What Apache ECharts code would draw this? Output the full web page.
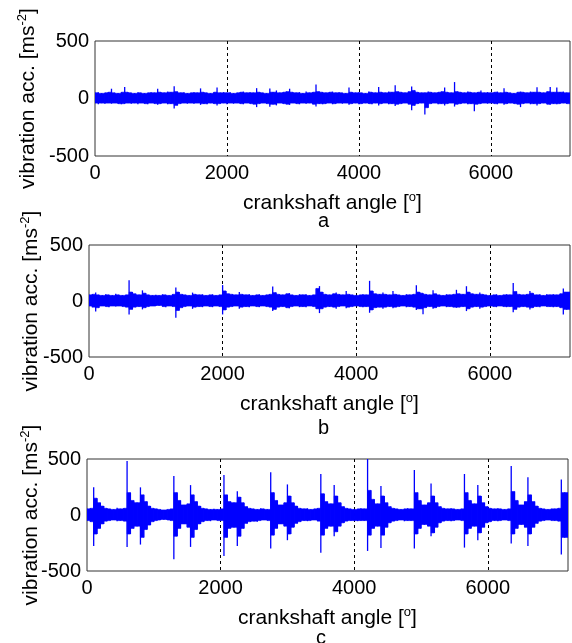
<!DOCTYPE html>
<html>
<head>
<meta charset="utf-8">
<title>Vibration acceleration vs crankshaft angle</title>
<script src="https://cdn.jsdelivr.net/npm/echarts@6/dist/echarts.min.js"></script>
<style>
  html, body { margin: 0; padding: 0; background: #fff; }
  #chart { width: 572px; height: 643px; }
</style>
</head>
<body>
<div id="chart"></div>
<script>
// Crankshaft angle sampling: each bin holds the local max and min of the signal
const BIN_DEG = 50;
const X_MAX = 7200;
const Y_TICKS = [-500, 0, 500];
const PANEL_LETTERS = ['a', 'b', 'c'];

// Panel a: local maxima / minima per 50-degree bin [m/s^2]
const aHi = [
  50,55,45,50,55,85,50,45,55,100,
  55,50,45,55,50,45,50,55,50,85,
  55,50,60,55,106,60,50,55,45,50,
  55,50,88,55,50,45,55,95,50,55,
  50,55,45,50,55,60,50,55,50,90,
  55,50,45,88,55,70,50,55,60,85,
  55,50,55,45,60,50,55,121,60,55,
  50,55,60,50,55,50,45,95,55,50,
  55,50,45,60,55,50,100,55,50,60,
  55,115,60,55,50,60,105,70,55,50,
  50,60,55,50,55,60,95,55,50,143,
  60,55,50,60,55,50,55,70,50,55,
  50,55,60,50,90,55,50,45,55,60,
  55,50,60,55,97,55,50,60,100,55,
  95,55,60,50
];
const aLo = [
  -40,-50,-40,-45,-40,-45,-40,-45,-50,-45,
  -40,-45,-40,-50,-40,-45,-50,-40,-45,-55,
  -45,-40,-50,-45,-88,-60,-45,-40,-45,-40,
  -45,-40,-55,-45,-50,-40,-45,-60,-45,-40,
  -50,-40,-45,-40,-45,-50,-40,-45,-50,-75,
  -45,-40,-45,-72,-50,-60,-40,-45,-50,-55,
  -40,-45,-50,-40,-45,-40,-50,-70,-45,-50,
  -45,-40,-50,-45,-40,-45,-40,-55,-45,-40,
  -50,-45,-40,-45,-50,-40,-60,-45,-40,-50,
  -45,-65,-50,-45,-40,-50,-103,-60,-45,-40,
  -140,-80,-45,-40,-50,-45,-60,-45,-40,-70,
  -50,-45,-40,-50,-45,-111,-50,-45,-40,-45,
  -40,-45,-50,-40,-55,-45,-40,-45,-50,-75,
  -45,-40,-50,-45,-60,-45,-40,-50,-55,-45,
  -50,-45,-40,-45
];

// Panel b
const bHi = [
  55,60,75,55,50,60,55,50,65,55,
  50,55,185,80,65,55,95,70,55,50,
  55,50,60,55,50,60,121,80,60,55,
  50,75,60,55,60,50,55,60,50,55,
  142,90,65,60,55,80,60,55,60,50,
  55,60,50,55,60,130,75,60,55,65,
  70,55,50,60,55,60,50,55,112,133,
  80,60,55,65,75,60,55,90,60,55,
  50,55,60,55,180,90,65,60,75,60,
  55,90,60,55,50,60,55,60,140,80,
  70,60,55,95,65,55,50,60,55,60,
  100,65,60,132,80,65,60,75,60,55,
  50,55,60,50,55,60,55,160,85,60,
  55,60,90,70,55,60,50,60,55,60,
  55,65,112,80
];
const bLo = [
  -45,-55,-93,-60,-45,-50,-55,-45,-50,-45,
  -50,-55,-120,-75,-55,-50,-75,-60,-50,-45,
  -45,-40,-50,-55,-45,-50,-150,-85,-60,-50,
  -45,-70,-55,-50,-55,-45,-50,-55,-45,-50,
  -120,-80,-55,-50,-45,-70,-55,-50,-55,-45,
  -50,-55,-45,-50,-55,-90,-75,-55,-50,-60,
  -65,-50,-45,-55,-50,-55,-45,-50,-70,-108,
  -70,-55,-50,-55,-70,-50,-45,-65,-55,-50,
  -45,-50,-55,-50,-105,-80,-60,-55,-70,-55,
  -50,-65,-55,-50,-45,-55,-50,-55,-80,-70,
  -118,-60,-50,-70,-60,-50,-45,-55,-50,-55,
  -60,-55,-50,-90,-70,-55,-50,-70,-55,-50,
  -45,-50,-55,-45,-50,-55,-50,-100,-75,-55,
  -50,-55,-75,-60,-50,-55,-45,-50,-50,-55,
  -50,-60,-120,-75
];

// Panel c
const cHi = [
  55,60,247,150,110,80,60,55,50,65,
  55,60,482,200,130,110,247,180,120,80,
  60,55,50,45,50,55,348,200,130,90,
  100,267,180,120,80,60,55,50,55,50,
  55,357,180,120,110,213,160,110,75,60,
  55,50,60,55,50,381,200,130,90,110,
  273,170,110,80,60,55,60,50,55,60,
  366,190,120,100,267,170,110,75,60,55,
  50,55,60,55,500,220,140,100,258,170,
  110,75,60,55,50,55,60,55,401,200,
  130,90,110,282,170,110,75,60,55,60,
  55,50,55,366,200,130,100,267,170,110,
  75,60,55,60,55,50,55,437,210,130,
  90,120,336,180,120,80,60,55,50,55,
  55,60,318,200
];
const cLo = [
  -50,-60,-276,-170,-120,-80,-55,-50,-45,-55,
  -50,-55,-285,-170,-120,-100,-264,-200,-130,-90,
  -60,-50,-45,-40,-45,-50,-395,-190,-120,-80,
  -110,-285,-200,-130,-80,-60,-50,-55,-45,-50,
  -50,-366,-200,-120,-110,-276,-190,-120,-75,-60,
  -55,-60,-50,-45,-50,-300,-180,-120,-80,-100,
  -225,-170,-110,-75,-60,-50,-55,-50,-45,-55,
  -336,-180,-120,-100,-189,-150,-100,-70,-55,-50,
  -50,-55,-50,-50,-321,-180,-120,-100,-294,-180,
  -110,-70,-55,-50,-45,-55,-50,-50,-300,-170,
  -120,-85,-100,-189,-160,-110,-70,-55,-50,-55,
  -50,-45,-50,-291,-170,-120,-100,-225,-160,-110,
  -70,-60,-50,-55,-50,-45,-50,-255,-170,-120,
  -85,-110,-276,-170,-110,-75,-55,-50,-45,-50,
  -50,-55,-353,-200
];

const FONT = '"Liberation Sans", Arial, sans-serif';
const BLUE = '#0000ff';

// One data item per bin: [angle, max, min]
function binItems(hi, lo) {
  return hi.map((h, k) => [k * BIN_DEG, h, lo[k]]);
}

// Each bin: a needle from its min to its max, plus a solid block up to the
// extent that both neighbouring bins reach (the dense part of the trace)
function traceRenderer(hi, lo) {
  return function (params, api) {
    const k = params.dataIndex;
    const last = k === hi.length - 1;
    const x0 = k * BIN_DEG;
    const x1 = last ? X_MAX : (k + 1) * BIN_DEG;
    const top = last ? hi[k] : Math.min(hi[k], hi[k + 1]);
    const bot = last ? lo[k] : Math.max(lo[k], lo[k + 1]);
    const block = [
      api.coord([x0, top]), api.coord([x1, top]),
      api.coord([x1, bot]), api.coord([x0, bot])
    ];
    const pHi = api.coord([x0, hi[k]]);
    const pLo = api.coord([x0, lo[k]]);
    return {
      type: 'group',
      children: [
        { type: 'polygon', shape: { points: block },
          style: { fill: BLUE, stroke: BLUE, lineWidth: 0.6 } },
        { type: 'line', shape: { x1: pHi[0], y1: pHi[1], x2: pLo[0], y2: pLo[1] },
          style: { stroke: BLUE, lineWidth: 1.3 } }
      ]
    };
  };
}

const grids = [
  { left: 95, top: 41, width: 475, height: 115 },
  { left: 89, top: 245, width: 481, height: 112 },
  { left: 87, top: 459, width: 481, height: 112 }
];
const yNameGaps = [55, 46, 44];
const signals = [[aHi, aLo], [bHi, bLo], [cHi, cLo]];
const letterPos = [
  { left: 318, top: 211 },
  { left: 318, top: 418 },
  { left: 316, top: 628 }
];

const nameRich = {
  t: { fontFamily: FONT, fontSize: 21, color: '#000', lineHeight: 24 },
  s: { fontFamily: FONT, fontSize: 13, color: '#000', lineHeight: 13, verticalAlign: 'top' }
};

const option = {
  animation: false,
  backgroundColor: '#ffffff',
  grid: grids.map(g => Object.assign({
    show: true, borderColor: '#333333', borderWidth: 1,
    backgroundColor: 'transparent', containLabel: false
  }, g)),
  title: PANEL_LETTERS.map((t, i) => ({
    text: t, left: letterPos[i].left, top: letterPos[i].top, padding: 0,
    textStyle: { fontFamily: FONT, fontSize: 20, fontWeight: 'normal', color: '#000' }
  })),
  xAxis: grids.map((g, i) => ({
    type: 'value', gridIndex: i, min: 0, max: X_MAX, interval: 2000,
    axisLine: { show: false },
    axisTick: { show: false },
    axisLabel: {
      showMaxLabel: false, margin: 7,
      fontFamily: FONT, fontSize: 20, color: '#000',
      formatter: v => String(v)
    },
    splitLine: {
      show: true, showMinLine: false, showMaxLine: false,
      lineStyle: { color: '#000', width: 1, type: [3, 3] }
    },
    name: '{t|crankshaft angle [}{s|o}{t|]}',
    nameLocation: 'middle', nameGap: 35, nameMoveOverlap: false,
    nameTextStyle: { rich: nameRich }
  })),
  yAxis: grids.map((g, i) => ({
    type: 'value', gridIndex: i, min: Y_TICKS[0], max: Y_TICKS[2], interval: 500,
    axisLine: { show: false },
    axisTick: { show: false },
    axisLabel: {
      margin: 6, fontFamily: FONT, fontSize: 20, color: '#000',
      formatter: v => String(v)
    },
    splitLine: { show: false },
    name: '{t|vibration acc. [ms}{s|-2}{t|]}',
    nameLocation: 'middle', nameGap: yNameGaps[i], nameMoveOverlap: false,
    nameTextStyle: { rich: nameRich }
  })),
  series: signals.map((s, i) => ({
    type: 'custom', xAxisIndex: i, yAxisIndex: i,
    data: binItems(s[0], s[1]),
    encode: { x: 0, y: [1, 2] },
    clip: true,
    renderItem: traceRenderer(s[0], s[1])
  }))
};

const chart = echarts.init(document.getElementById('chart'), null, { renderer: 'canvas' });
chart.setOption(option);
</script>
</body>
</html>
